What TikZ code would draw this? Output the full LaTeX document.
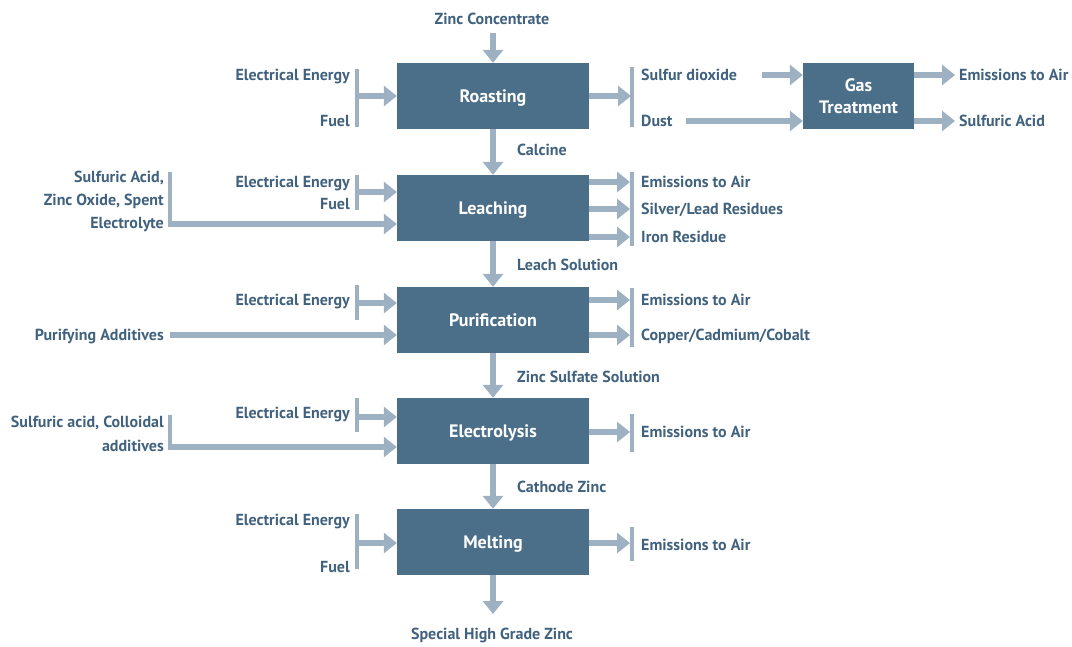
\documentclass[tikz,border=0pt]{standalone}
\usepackage{fontspec}
\setmainfont{PT Sans}
\usetikzlibrary{arrows.meta}
\definecolor{boxc}{HTML}{4B6F89}
\definecolor{flowc}{HTML}{9DB1C2}
\definecolor{txtc}{HTML}{41627E}

\begin{document}
\begin{tikzpicture}[x=1pt,y=-1pt,
  unit/.style={fill=boxc, minimum width=192pt, minimum height=66pt, text=white,
    font=\bfseries\fontsize{18}{22}\selectfont, inner sep=0, align=center, text depth=0pt},
  lbl/.style={text=txtc, font=\bfseries\fontsize{16}{18}\selectfont, inner sep=0, text depth=0pt},
  rlbl/.style={lbl, anchor=east},
  llbl/.style={lbl, anchor=west},
  flow/.style={draw=flowc, line width=6pt, -{Triangle[width=20pt,length=13pt]}},
  bar/.style={draw=flowc, line width=4pt},
]
\useasboundingbox (0,0) rectangle (1072,646);

% process units
\node[unit] (roast) at (493,96)  {Roasting};
\node[unit] (leach) at (493,208) {Leaching};
\node[unit] (purif) at (493,320) {Purification};
\node[unit] (elec)  at (493,431) {Electrolysis};
\node[unit] (melt)  at (493,542) {Melting};
\node[unit, minimum width=111pt] (gas) at (858.5,96) {Gas\\Treatment};

% main line
\node[lbl] (conc) at (492,19) {Zinc Concentrate};
\coordinate (concin) at (493,33);
\draw[flow] (concin) -- (roast.north);
\draw[flow] (roast.south) -- (leach.north);
\node[llbl] (calc) at (517,150) {Calcine};
\draw[flow] (leach.south) -- (purif.north);
\node[llbl] (lsol) at (517,265) {Leach Solution};
\draw[flow] (purif.south) -- (elec.north);
\node[llbl] (zss) at (517,377) {Zinc Sulfate Solution};
\draw[flow] (elec.south) -- (melt.north);
\node[llbl] (cz) at (517,487) {Cathode Zinc};
\coordinate (shgout) at (493,614);
\draw[flow] (melt.south) -- (shgout);
\node[lbl] (shg) at (492,634) {Special High Grade Zinc};

% roasting inputs
\node[rlbl] (r1) at (350,75) {Electrical Energy};
\node[rlbl] (r2) at (350,121) {Fuel};
\draw[bar] (357,69) -- (357,127);
\coordinate (rbar) at (357,96);
\draw[flow] (rbar) -- (roast.west |- rbar);

% roasting outputs
\coordinate (robar) at (631,96);
\draw[flow] (roast.east) -- (robar);
\draw[bar] (632,67) -- (632,127);
\node[llbl] (so2) at (641,75) {Sulfur dioxide};
\node[llbl] (dust) at (641,121) {Dust};
\coordinate (so2out) at (762,75);
\coordinate (dustout) at (686,121);
\draw[flow] (so2out) -- (gas.west |- so2out);
\draw[flow] (dustout) -- (gas.west |- dustout);
\node[llbl] (gem) at (959,75) {Emissions to Air};
\node[llbl] (gsa) at (959,121) {Sulfuric Acid};
\draw[flow] (gas.east |- gem) -- ([xshift=-4pt]gem.west);
\draw[flow] (gas.east |- gsa) -- ([xshift=-4pt]gsa.west);

% leaching inputs
\node[rlbl] (l1) at (350,182) {Electrical Energy};
\node[rlbl] (l2) at (350,204) {Fuel};
\draw[bar] (357,175) -- (357,210);
\coordinate (lbar) at (357,192);
\draw[flow] (lbar) -- (leach.west |- lbar);
\node[lbl, anchor=east, align=right, font=\bfseries\fontsize{16}{23}\selectfont] (lacid) at (164,200)
  {Sulfuric Acid,\\Zinc Oxide, Spent\\Electrolyte};
\draw[bar] (170,172) -- (170,227);
\coordinate (lacidin) at (170,224);
\draw[flow] (lacidin) -- (leach.west |- lacidin);

% leaching outputs
\foreach \y/\n/\t in {182/le1/{Emissions to Air}, 209/le2/{Silver/Lead Residues}, 237/le3/{Iron Residue}}{
  \node[llbl] (\n) at (641,\y) {\t};
  \draw[flow] (leach.east |- 0,\y) -- (630,\y);
}
\draw[bar] (632,172) -- (632,246);

% purification inputs
\node[rlbl] (p1) at (350,300) {Electrical Energy};
\draw[bar] (357,285) -- (357,320);
\coordinate (pbar) at (357,303);
\draw[flow] (pbar) -- (purif.west |- pbar);
\node[rlbl] (padd) at (164,335) {Purifying Additives};
\draw[flow] ([xshift=6pt]padd.east) -- (purif.west |- padd);

% purification outputs
\node[llbl] (pe1) at (641,300) {Emissions to Air};
\node[llbl] (pe2) at (641,335) {Copper/Cadmium/Cobalt};
\draw[flow] (purif.east |- pe1) -- (630,300);
\draw[flow] (purif.east |- pe2) -- (630,335);
\draw[bar] (632,288) -- (632,347);

% electrolysis inputs
\node[rlbl] (e1) at (350,413) {Electrical Energy};
\draw[bar] (357,398) -- (357,432);
\coordinate (ebar) at (357,417);
\draw[flow] (ebar) -- (elec.west |- ebar);
\node[lbl, anchor=east, align=right, font=\bfseries\fontsize{16}{24}\selectfont] (eacid) at (164,434)
  {Sulfuric acid, Colloidal\\additives};
\draw[bar] (170,415) -- (170,450);
\coordinate (eacidin) at (170,447);
\draw[flow] (eacidin) -- (elec.west |- eacidin);

% electrolysis outputs
\node[llbl] (ee1) at (641,432) {Emissions to Air};
\draw[flow] (elec.east |- ee1) -- (630,432);
\draw[bar] (632,414) -- (632,452);

% melting inputs
\node[rlbl] (m1) at (350,520) {Electrical Energy};
\node[rlbl] (m2) at (350,567) {Fuel};
\draw[bar] (357,514) -- (357,569);
\coordinate (mbar) at (357,543);
\draw[flow] (mbar) -- (melt.west |- mbar);

% melting outputs
\node[llbl] (me1) at (641,545) {Emissions to Air};
\draw[flow] (melt.east |- 0,543) -- (630,543);
\draw[bar] (632,527) -- (632,561);
\end{tikzpicture}
\end{document}
